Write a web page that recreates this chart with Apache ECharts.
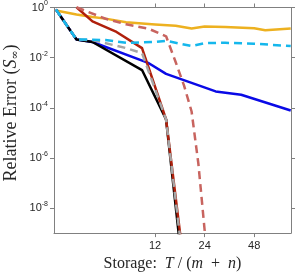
<!DOCTYPE html>
<html><head><meta charset="utf-8">
<script src="https://cdn.jsdelivr.net/npm/echarts@6/dist/echarts.min.js"></script>
<style>html,body{margin:0;padding:0;background:#fff}#c{width:298px;height:277px}</style>
</head><body><div id="c"></div>
<script>
// tick values
const xTickValues = [12, 24, 48];
const yTickValues = [1, 1e-2, 1e-4, 1e-6, 1e-8];

// series data (storage T, relative error)
const yellowT = [3, 4, 5, 6, 8, 12, 16, 20, 24, 32, 48, 56, 80];
const yellowV = [0.76, 0.53, 0.42, 0.36, 0.26, 0.21, 0.186, 0.144, 0.173, 0.166, 0.148, 0.123, 0.144];

const blueT = [3, 4, 5, 11, 14, 28, 40, 80];
const blueV = [0.83, 0.053, 0.042, 0.006, 0.00225, 0.00045, 0.00033, 0.000078];

const cyanT = [3, 4, 5, 6, 8, 12, 14, 20, 24, 32, 48, 80];
const cyanV = [0.83, 0.053, 0.052, 0.05, 0.039, 0.042, 0.047, 0.029, 0.038, 0.039, 0.036, 0.029];

const blackT = [3, 4, 5, 10, 14, 18];
const blackV = [0.83, 0.053, 0.042, 0.0032, 3.4e-5, 1.1e-11];

const redT = [4, 5, 7, 10, 14, 18];
const redV = [1.02, 0.28, 0.106, 0.024, 3.4e-5, 5e-11];

const greyT = [3, 4, 5, 8, 10, 14, 18];
const greyV = [0.83, 0.053, 0.05, 0.024, 0.0152, 3.4e-5, 3e-11];

const rosyT = [4, 6, 8, 11, 14, 16, 18, 20, 22, 24, 28];
const rosyV = [1.02, 0.357, 0.213, 0.141, 0.071, 0.0067, 7.6e-4, 7.1e-5, 5.7e-7, 1.3e-9, 1e-12];

const zip = (a, b) => a.map((t, i) => [t, b[i]]);
const axisGrey = '#808080';
const textCol = '#262626';

function yLabel(v) {
  const e = Math.round(Math.log10(v));
  return '{b|10}{s|' + e + '}';
}

const xBase = {
  type: 'log', logBase: 10, min: 2.92, max: 80.3,
  axisLine: { show: true, lineStyle: { color: axisGrey, width: 1 } },
  axisTick: { show: true, length: 4, inside: false, customValues: xTickValues, lineStyle: { color: axisGrey } },
  minorTick: { show: false },
  splitLine: { show: false }
};
const yBase = {
  type: 'log', logBase: 10, min: 1e-9, max: 1,
  axisLine: { show: true, lineStyle: { color: axisGrey, width: 1 } },
  axisTick: { show: true, length: 4, inside: false, customValues: yTickValues, lineStyle: { color: axisGrey } },
  minorTick: { show: false },
  splitLine: { show: false }
};

function line(name, T, V, color, dashed, z) {
  return {
    name, type: 'line', data: zip(T, V), showSymbol: false, symbol: 'none',
    xAxisIndex: 0, yAxisIndex: 0, clip: true, z: z,
    lineStyle: { color, width: 2.5, type: dashed ? [8, 5] : 'solid', cap: 'butt', join: 'round' },
    animation: false
  };
}

const chart = echarts.init(document.getElementById('c'), null, { renderer: 'canvas' });
chart.setOption({
  animation: false,
  backgroundColor: '#fff',
  grid: { left: 54, top: 6, width: 237, height: 228, containLabel: false },
  graphic: [{
    type: 'text', x: 11, y: 113, rotation: Math.PI / 2, silent: true,
    style: {
      text: '{r|Relative Error (}{i|S}{u|∞}{r|)}',
      align: 'center', verticalAlign: 'middle',
      rich: {
        r: { fontFamily: 'Liberation Serif', fontSize: 18, fill: textCol },
        i: { fontFamily: 'Liberation Serif', fontSize: 18, fontStyle: 'italic', fill: textCol },
        u: { fontFamily: 'DejaVu Serif', fontSize: 11, fill: textCol, padding: [8, 0, 0, 0] }
      }
    }
  }],
  xAxis: [
    Object.assign({}, xBase, {
      position: 'bottom',
      axisLabel: { show: true, customValues: xTickValues, margin: 7, color: textCol, fontSize: 11, fontFamily: 'Liberation Sans', formatter: v => String(Math.round(v)) },
      name: '{r|Storage:  }{i|T}{r| / (}{i|m}{r|  +  }{i|n}{r|)}',
      nameLocation: 'middle', nameGap: 22,
      nameTextStyle: { rich: {
        r: { fontFamily: 'Liberation Serif', fontSize: 16, color: textCol },
        i: { fontFamily: 'Liberation Serif', fontSize: 16, fontStyle: 'italic', color: textCol }
      } }
    }),
    Object.assign({}, xBase, { position: 'top', axisLabel: { show: false } })
  ],
  yAxis: [
    Object.assign({}, yBase, {
      position: 'left',
      axisLabel: { show: true, customValues: yTickValues, margin: 6, color: textCol, formatter: yLabel,
        rich: {
          b: { fontSize: 11, fontFamily: 'Liberation Sans', color: textCol },
          s: { fontSize: 7, fontFamily: 'Liberation Sans', color: textCol, verticalAlign: 'top', padding: [0, 0, 8, 0] }
        } }
    }),
    Object.assign({}, yBase, { position: 'right', axisLabel: { show: false } })
  ],
  series: [
    line('yellow', yellowT, yellowV, '#EDB120', false, 2),
    line('blue', blueT, blueV, '#0A0AE6', false, 3),
    line('black', blackT, blackV, '#000000', false, 4),
    line('red', redT, redV, '#B0200C', false, 5),
    line('rosy', rosyT, rosyV, '#C8645F', true, 6),
    line('grey', greyT, greyV, '#A6A6A6', true, 7),
    line('cyan', cyanT, cyanV, '#15B7EC', true, 8)
  ]
});
</script>
</body></html>
